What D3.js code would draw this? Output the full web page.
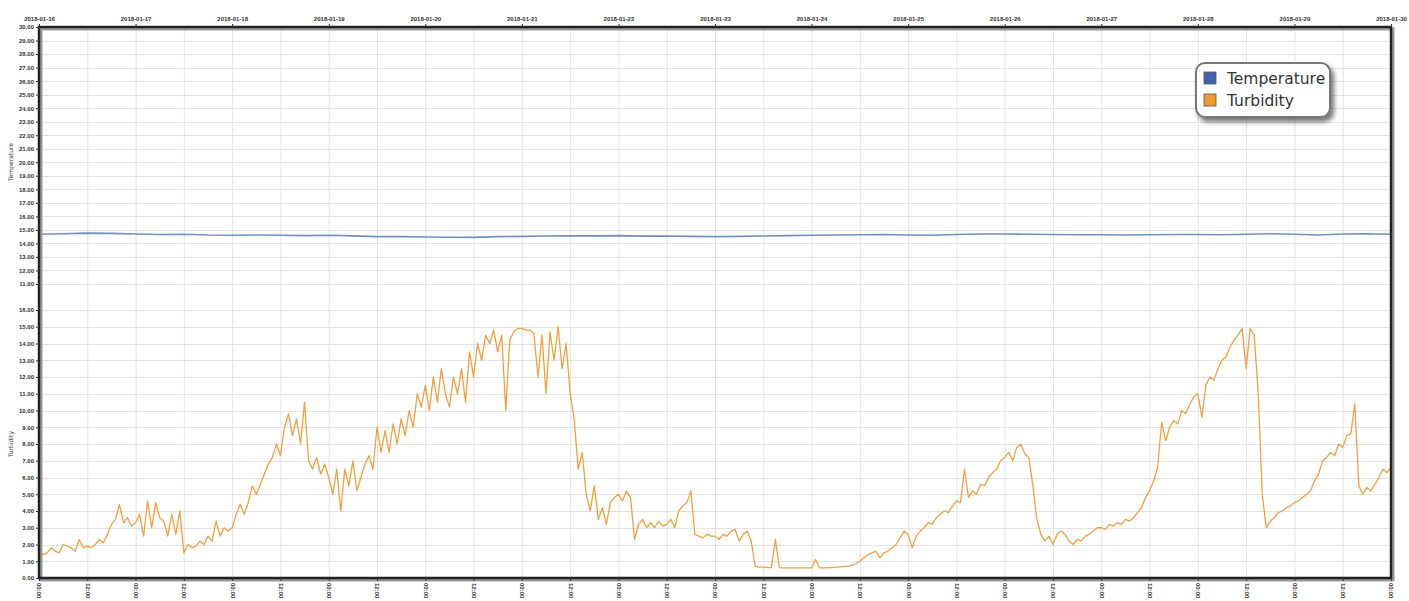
<!DOCTYPE html>
<html>
<head>
<meta charset="utf-8">
<script src="https://cdn.jsdelivr.net/npm/d3@7"></script>
<style>
  body{margin:0;background:#fff;}
  svg{display:block;font-family:"DejaVu Sans",sans-serif;}
  .tick text{fill:#333;}
</style>
</head>
<body>
<svg id="chart" width="1409" height="601"></svg>
<script>
// ---- data ----
var startTime = Date.UTC(2018,0,16);
var endTime = Date.UTC(2018,0,30);
var seriesNames = ["Temperature","Turbidity"];
var seriesColors = ["#6f8fcc","#f2a03c"];
var swatchColors = ["#3f63ad","#f39a2a"];
var tempTicks = d3.range(11,31);
var turbTicks = d3.range(0,17);

// temperature, one reading every 6 hours
var temperature = [
  14.68,14.72,14.76,14.74,
  14.70,14.66,14.68,14.62,
  14.60,14.62,14.60,14.58,
  14.60,14.56,14.50,14.50,
  14.48,14.46,14.45,14.50,
  14.52,14.55,14.56,14.56,
  14.58,14.54,14.55,14.52,
  14.50,14.52,14.55,14.58,
  14.60,14.62,14.64,14.66,
  14.62,14.60,14.66,14.70,
  14.70,14.68,14.66,14.64,
  14.64,14.62,14.64,14.66,
  14.66,14.64,14.68,14.72,
  14.68,14.62,14.70,14.72,
  14.68
];

// turbidity, one reading every hour (one row per day)
var turbidity = [
  1.5,1.4,1.5,1.8,1.6,1.5,2.0,1.9,1.8,1.6,2.3,1.8,1.9,1.8,2.0,2.3,2.1,2.6,3.2,3.5,4.4,3.3,3.6,3.1,
  3.3,3.8,2.5,4.6,3.0,4.5,3.6,3.4,2.5,3.8,2.6,4.0,1.5,2.0,1.8,1.9,2.2,2.0,2.5,2.2,3.4,2.5,3.0,2.8,
  3.0,3.8,4.4,3.8,4.5,5.5,5.0,5.6,6.2,6.8,7.2,8.0,7.3,9.0,9.8,8.5,9.5,8.0,10.5,7.0,6.5,7.2,6.2,6.8,
  6.0,5.0,6.5,4.0,6.5,5.5,7.0,5.2,6.0,6.8,7.3,6.5,9.0,7.5,8.8,7.5,9.2,8.0,9.5,8.5,10.0,9.0,11.0,10.2,
  11.5,10.0,12.0,10.5,12.5,11.0,10.2,12.0,11.0,12.5,10.5,13.5,12.0,14.0,13.0,14.5,14.0,14.8,13.5,14.5,10.0,14.2,14.7,14.9,
  14.9,14.8,14.8,14.6,12.0,14.5,11.0,14.7,13.0,15.0,12.5,14.0,11.0,9.5,6.5,7.5,5.0,4.0,5.5,3.5,4.2,3.2,4.5,4.8,
  5.0,4.6,5.2,4.8,2.3,3.2,3.5,3.0,3.3,3.0,3.4,3.1,3.2,3.5,3.0,4.0,4.3,4.5,5.2,2.6,2.5,2.4,2.6,2.5,
  2.5,2.3,2.6,2.5,2.8,2.9,2.2,2.6,2.8,2.2,0.7,0.65,0.65,0.62,0.62,2.3,0.62,0.6,0.6,0.6,0.6,0.6,0.6,0.6,
  0.6,1.1,0.6,0.6,0.62,0.62,0.65,0.65,0.7,0.7,0.75,0.85,1.0,1.2,1.4,1.5,1.6,1.2,1.5,1.6,1.8,2.0,2.4,2.8,
  2.6,1.8,2.5,2.8,3.0,3.3,3.2,3.6,3.8,4.0,3.9,4.3,4.6,4.5,6.5,4.8,5.2,5.0,5.6,5.5,6.0,6.3,6.5,7.0,
  7.2,7.5,7.0,7.8,8.0,7.4,7.2,5.5,3.5,2.6,2.2,2.5,2.0,2.6,2.8,2.6,2.2,2.0,2.3,2.2,2.5,2.6,2.8,3.0,
  3.0,2.9,3.2,3.1,3.3,3.2,3.5,3.4,3.6,3.9,4.2,4.8,5.2,5.8,6.6,9.3,8.2,9.0,9.4,9.2,10.0,9.8,10.4,10.8,
  11.0,9.6,11.5,12.0,11.8,12.5,13.0,13.2,13.8,14.2,14.5,14.9,12.5,14.9,14.5,11.0,5.0,3.0,3.4,3.6,3.9,4.0,4.2,4.3,
  4.5,4.6,4.8,5.0,5.2,5.8,6.2,7.0,7.2,7.5,7.3,8.0,7.8,8.5,8.6,10.4,5.5,5.0,5.4,5.2,5.6,6.0,6.5,6.3,
  6.6
];

// ---- layout ----
var svg = d3.select("#chart");
var plotLeft = 39, plotRight = 1391, plotTop = 27, plotBottom = 578;

var x = d3.scaleUtc().domain([startTime,endTime]).range([plotLeft,plotRight]);
var yTemp = d3.scaleLinear().domain([11,30]).range([284,plotTop]);
var yTurb = d3.scaleLinear().domain([0,16]).range([plotBottom,310]);

var defs = svg.append("defs");
var shadow = defs.append("filter").attr("id","shadow")
    .attr("x","-20%").attr("y","-20%").attr("width","150%").attr("height","160%");
shadow.append("feDropShadow").attr("dx",3).attr("dy",4).attr("stdDeviation",2.5)
    .attr("flood-color","#000").attr("flood-opacity",0.55);

// grid
var grid = svg.append("g").attr("stroke","#e3e3e3").attr("stroke-width",1);
grid.selectAll("line.v").data(d3.utcHour.every(12).range(new Date(startTime), new Date(endTime+1)))
  .enter().append("line")
    .attr("x1",function(d){return x(d)+0.5;}).attr("x2",function(d){return x(d)+0.5;})
    .attr("y1",plotTop).attr("y2",plotBottom);
grid.selectAll("line.t").data(tempTicks).enter().append("line")
    .attr("x1",plotLeft).attr("x2",plotRight)
    .attr("y1",function(d){return Math.round(yTemp(d))+0.5;})
    .attr("y2",function(d){return Math.round(yTemp(d))+0.5;});
grid.selectAll("line.b").data(turbTicks).enter().append("line")
    .attr("x1",plotLeft).attr("x2",plotRight)
    .attr("y1",function(d){return Math.round(yTurb(d))+0.5;})
    .attr("y2",function(d){return Math.round(yTurb(d))+0.5;});

// lines
var tempLine = d3.line()
    .x(function(d,i){return x(startTime + i*6*3600e3);})
    .y(function(d){return yTemp(d);});
var turbLine = d3.line()
    .x(function(d,i){return x(startTime + i*3600e3);})
    .y(function(d){return yTurb(d);});

svg.append("path").datum(temperature).attr("d",tempLine)
    .attr("fill","none").attr("stroke",seriesColors[0]).attr("stroke-width",1.6);
svg.append("path").datum(turbidity).attr("d",turbLine)
    .attr("fill","none").attr("stroke",seriesColors[1]).attr("stroke-width",1.3)
    .attr("stroke-linejoin","round");

// frame with shadow
svg.append("rect").attr("x",plotLeft+2).attr("y",plotTop+2)
    .attr("width",plotRight-plotLeft).attr("height",plotBottom-plotTop)
    .attr("fill","none").attr("stroke","#9a9a9a").attr("stroke-width",3);
svg.append("rect").attr("x",plotLeft).attr("y",plotTop)
    .attr("width",plotRight-plotLeft).attr("height",plotBottom-plotTop)
    .attr("fill","none").attr("stroke","#222").attr("stroke-width",2.5);

// axes
var axisLeftT = d3.axisLeft(yTemp).tickValues(tempTicks).tickFormat(d3.format(".2f")).tickSize(3).tickPadding(2);
var axisLeftB = d3.axisLeft(yTurb).tickValues(turbTicks).tickFormat(d3.format(".2f")).tickSize(3).tickPadding(2);
var axisTop = d3.axisTop(x).ticks(d3.utcDay.every(1)).tickFormat(d3.utcFormat("%Y-%m-%d")).tickSize(3).tickPadding(3);
var axisBottom = d3.axisBottom(x).ticks(d3.utcHour.every(12)).tickFormat(d3.utcFormat("%H:%M")).tickSize(3);

function styleAxis(g){
  g.select(".domain").remove();
  g.selectAll(".tick line").attr("stroke","#333");
  g.selectAll(".tick text").attr("font-size",6).attr("font-weight","bold");
}
svg.append("g").attr("transform","translate("+plotLeft+",0)").call(axisLeftT).call(styleAxis);
svg.append("g").attr("transform","translate("+plotLeft+",0)").call(axisLeftB).call(styleAxis);
svg.append("g").attr("transform","translate(0,"+plotTop+")").call(axisTop).call(styleAxis);
var xb = svg.append("g").attr("transform","translate(0,"+plotBottom+")").call(axisBottom).call(styleAxis);
xb.selectAll(".tick text")
    .attr("transform","rotate(90)").attr("text-anchor","start")
    .attr("dy","0.35em").attr("x",5).attr("y",0);

// axis titles
svg.append("text").attr("transform","translate(13,162) rotate(-90)")
    .attr("text-anchor","middle").attr("font-size",6).attr("fill","#333").text(seriesNames[0]);
svg.append("text").attr("transform","translate(13,444) rotate(-90)")
    .attr("text-anchor","middle").attr("font-size",6).attr("fill","#333").text(seriesNames[1]);

// legend
var lg = svg.append("g").attr("transform","translate(1196,63)");
lg.append("rect").attr("width",134).attr("height",54).attr("rx",9)
    .attr("fill","#fff").attr("stroke","#777").attr("stroke-width",2)
    .attr("filter","url(#shadow)");
var items = lg.selectAll("g.item").data(seriesNames).enter().append("g")
    .attr("transform",function(d,i){return "translate(8,"+(9+i*22)+")";});
items.append("rect").attr("width",12).attr("height",12)
    .attr("fill",function(d,i){return swatchColors[i];})
    .attr("stroke","#555").attr("stroke-width",0.8);
items.append("text").attr("x",23).attr("y",11.5).attr("font-size",15.5)
    .attr("fill","#333").text(function(d){return d;});
</script>
</body>
</html>
